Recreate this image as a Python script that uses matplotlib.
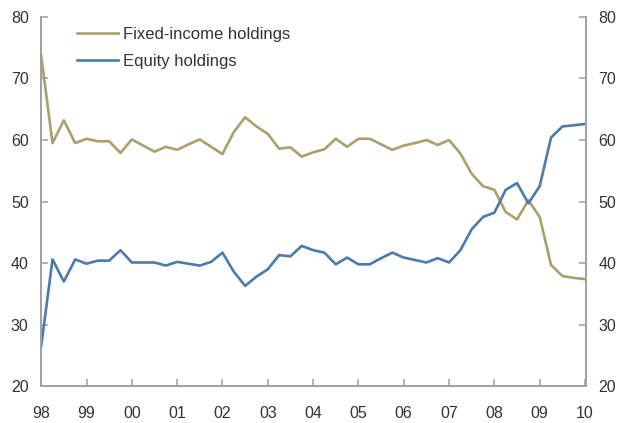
import numpy as np
import matplotlib.pyplot as plt

# quarterly data, 1998Q1 .. 2010Q1
fixed_income = [73.7, 59.5, 63.2, 59.5, 60.2, 59.8, 59.8, 57.9,
                60.1, 59.1, 58.1, 58.9, 58.4, 59.3, 60.1, 58.9,
                57.7, 61.3, 63.7, 62.2, 61.0, 58.6, 58.8, 57.3,
                58.0, 58.5, 60.2, 58.9, 60.2, 60.2, 59.3, 58.4,
                59.1, 59.5, 60.0, 59.2, 60.0, 57.8, 54.5, 52.5,
                51.9, 48.3, 47.1, 50.2, 47.5, 39.7, 37.9, 37.6, 37.4]
equity = [26.5, 40.6, 37.0, 40.6, 39.9, 40.4, 40.4, 42.1,
          40.1, 40.1, 40.1, 39.6, 40.2, 39.9, 39.6, 40.2,
          41.7, 38.6, 36.3, 37.8, 39.0, 41.3, 41.1, 42.8,
          42.1, 41.7, 39.8, 40.9, 39.8, 39.8, 40.8, 41.7,
          40.9, 40.5, 40.1, 40.8, 40.1, 42.1, 45.5, 47.5,
          48.2, 51.9, 53.0, 49.7, 52.5, 60.4, 62.2, 62.4, 62.6]
start_year = 1998
year_labels = ['98', '99', '00', '01', '02', '03', '04', '05', '06', '07', '08', '09', '10']
y_ticks = [20, 30, 40, 50, 60, 70, 80]

c_fixed = '#AD9E6E'
c_equity = '#4B7BAA'
c_axis = '#A0A0A0'
c_text = '#333333'

plt.rcParams['font.family'] = ['Liberation Sans', 'DejaVu Sans']

x = start_year + np.arange(len(fixed_income)) * 0.25
years = start_year + np.arange(len(year_labels))

fig = plt.figure(figsize=(6.24, 4.23), dpi=100)
ax1 = fig.add_axes([0.066, 0.087, 0.873, 0.873])
ax1.plot(x, fixed_income, color=c_fixed, lw=1.9, label='Fixed-income holdings')
ax1.plot(x, equity, color=c_equity, lw=1.9, label='Equity holdings')

ax1.set_xlim(start_year, years[-1] + 0.02)
ax1.set_ylim(20, 80)
ax1.set_yticks(y_ticks)
ax1.set_xticks(years)
ax1.set_xticklabels(year_labels)

ax2 = ax1.twinx()
ax2.set_ylim(20, 80)
ax2.set_yticks(y_ticks)

for ax in (ax1, ax2):
    ax.spines['top'].set_visible(False)
    for s in ('left', 'right', 'bottom'):
        ax.spines[s].set_color(c_axis)
        ax.spines[s].set_linewidth(1.2)
    ax.tick_params(direction='in', length=5, width=1.1, color=c_axis,
                   labelsize=11.5, labelcolor=c_text)
ax1.tick_params(axis='y', pad=9)
ax1.tick_params(axis='x', pad=14)
ax2.tick_params(axis='y', pad=9)

leg = ax1.legend(loc='upper left', bbox_to_anchor=(0.047, 1.0), frameon=False,
                 fontsize=12, handlelength=2.5, handletextpad=0.25,
                 labelspacing=0.7, borderaxespad=0.2)
for t in leg.get_texts():
    t.set_color(c_text)

fig.savefig('out.png', dpi=100)
